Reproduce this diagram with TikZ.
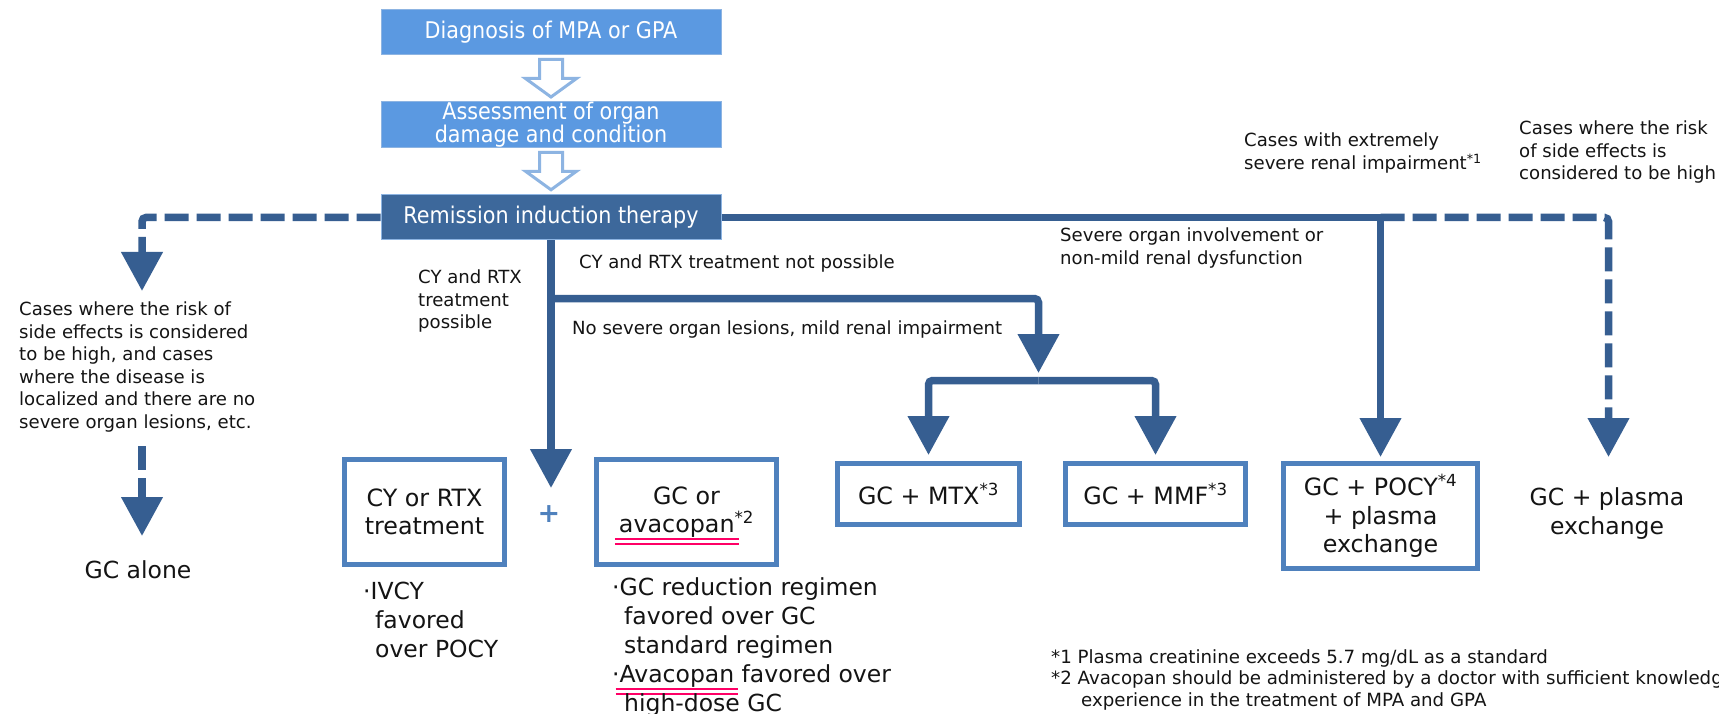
\documentclass[tikz,border=0pt]{standalone}
\usepackage{fontspec}
\setmainfont{DejaVu Sans}
\newfontfamily\condfont[FakeStretch=0.9]{DejaVu Sans}
\usetikzlibrary{arrows.meta,calc}
\definecolor{lightbox}{RGB}{91,153,225}
\definecolor{hollowc}{RGB}{141,180,226}
\definecolor{remfill}{RGB}{61,104,155}
\definecolor{connc}{RGB}{54,94,145}
\definecolor{boxb}{RGB}{79,129,189}
\definecolor{ulpink}{RGB}{255,0,102}
\definecolor{txt}{RGB}{20,20,20}
\newsavebox\ulbox
\newcommand{\pinkul}[1]{\sbox\ulbox{#1}%
\raisebox{0pt}[0pt][0pt]{\rlap{\hspace*{-4pt}\color{ulpink}\rule[-7.5pt]{\dimexpr\wd\ulbox+8pt\relax}{2pt}}}%
\raisebox{0pt}[0pt][0pt]{\rlap{\hspace*{-4pt}\color{ulpink}\rule[-12.5pt]{\dimexpr\wd\ulbox+8pt\relax}{2pt}}}%
\usebox\ulbox}
\begin{document}
\begin{tikzpicture}[x=1pt,y=-1pt,
  topbox/.style={rectangle,fill=lightbox,draw=hollowc,line width=1pt,minimum width=340pt,minimum height=45pt,inner sep=0pt,text=white,align=center,font=\condfont\fontsize{23}{21.5}\selectfont},
  rembox/.style={topbox,fill=remfill},
  hollow/.style={draw=hollowc,line width=3pt,fill=white,line join=miter},
  conn/.style={draw=connc,line width=7.5pt,-{Triangle[width=40pt,length=39pt]}},
  dsh/.style={dash pattern=on 24pt off 8pt},
  obox/.style={rectangle,draw=boxb,line width=5pt,fill=white,inner sep=0pt,align=center,text=txt,font=\fontsize{23.8}{28.5}\selectfont},
  lbl/.style={inner sep=0pt,anchor=north west,align=left,text=txt,font=\fontsize{18.1}{22.5}\selectfont},
  big/.style={inner sep=0pt,align=center,text=txt,font=\fontsize{23.5}{29}\selectfont},
]
\useasboundingbox (0,0) rectangle (1719,714);
\fill[white] (0,0) rectangle (1719,714);
\clip (0,0) rectangle (1719,714);

% top boxes
\node[topbox] (diag) at (551,32) {Diagnosis of MPA or GPA};
\node[topbox] (assess) at (551,124.5) {Assessment of organ\\damage and condition};
\node[rembox] (rem) at (551,217.5) {Remission induction therapy};

\draw[hollow] ($(diag.south)+(-11.5,4.5)$) -- ++(0,19) -- ++(-14,0) -- ++(25.5,18.5) -- ++(25.5,-18.5) -- ++(-14,0) -- ++(0,-19) -- cycle;
\draw[hollow] ($(assess.south)+(-11.5,4.5)$) -- ++(0,19) -- ++(-14,0) -- ++(25.5,18.5) -- ++(25.5,-18.5) -- ++(-14,0) -- ++(0,-19) -- cycle;

% bottom boxes
\node[obox,minimum width=160pt,minimum height=105pt] (cyrtx) at (424.5,512) {CY or RTX\\treatment};
\node[obox,minimum width=180pt,minimum height=105pt] (gcav) at (686.5,512) {GC or\\\pinkul{avacopan}\textsuperscript{*2}};
\node[obox,minimum width=182pt,minimum height=61pt] (mtx) at (928.5,494) {GC + MTX\textsuperscript{*3}};
\node[obox,minimum width=180pt,minimum height=61pt] (mmf) at (1155.5,494) {GC + MMF\textsuperscript{*3}};
\node[obox,minimum width=194pt,minimum height=105pt] (pocy) at (1380.5,516) {GC + POCY\textsuperscript{*4}\\+ plasma\\exchange};

% labels
\node[lbl] (lefttxt) at (19,302) {Cases where the risk of\\side effects is considered\\to be high, and cases\\where the disease is\\localized and there are no\\severe organ lesions, etc.};
\node[big] (gcalone) at (138,569.5) {GC alone};
\node[lbl] (possible) at (418,270) {CY and RTX\\treatment\\possible};
\node[lbl] (notpossible) at (579,254.5) {CY and RTX treatment not possible};
\node[lbl] (nosevere) at (572,321) {No severe organ lesions, mild renal impairment};
\node[lbl] (severe) at (1060,228) {Severe organ involvement or\\non-mild renal dysfunction};
\node[lbl] (extreme) at (1244,133) {Cases with extremely\\severe renal impairment\textsuperscript{*1}};
\node[lbl] (riskhigh) at (1519,121) {Cases where the risk\\of side effects is\\considered to be high};
\node[big] (pe) at (1607,513.5) {GC + plasma\\exchange};
\node[text=boxb,font=\bfseries\fontsize{27}{27}\selectfont,inner sep=0pt] (plus) at (549,514) {+};
\node[big,anchor=north west,align=left] (ivcy) at (363,582) {·IVCY\\\hspace*{12pt}favored\\\hspace*{12pt}over POCY};
\node[big,anchor=north west,align=left] (gcred) at (612,577) {·GC reduction regimen\\\hspace*{12pt}favored over GC\\\hspace*{12pt}standard regimen\\·\pinkul{Avacopan} favored over\\\hspace*{12pt}high-dose GC};
\node[lbl,font=\fontsize{18.2}{21.5}\selectfont] (notes) at (1051,649) {*1 Plasma creatinine exceeds 5.7 mg/dL as a standard\\*2 Avacopan should be administered by a doctor with sufficient knowledge and\\\hspace*{30pt}experience in the treatment of MPA and GPA};

% connector coordinates
\coordinate (lTip) at (142,291);
\coordinate (lStart) at (142,446);
\coordinate (gTip) at (142,536);
\coordinate (cTip) at (551,488);
\coordinate (bJ) at (551,298.5);
\coordinate (bTip) at (1038.5,373);
\coordinate (barC) at (1038.5,380.5);
\coordinate (peTip) at (1608.5,457);

\draw[conn,dsh,rounded corners=4pt] (rem.west) -| (lTip);
\draw[conn,dsh] (lStart) -- (gTip);
\draw[conn] (rem.south) -- (cTip);
\draw[conn,rounded corners=4pt] (bJ) -| (bTip);
\draw[conn,rounded corners=4pt] (barC) -| ([yshift=6pt]mtx.north);
\draw[conn,rounded corners=4pt] (barC) -| ([yshift=6pt]mmf.north);
\draw[conn] (rem.east) -| ([yshift=4pt]pocy.north);
\draw[conn,dsh,rounded corners=4pt] (rem.east -| pocy.north) -| (peTip);
\end{tikzpicture}
\end{document}
